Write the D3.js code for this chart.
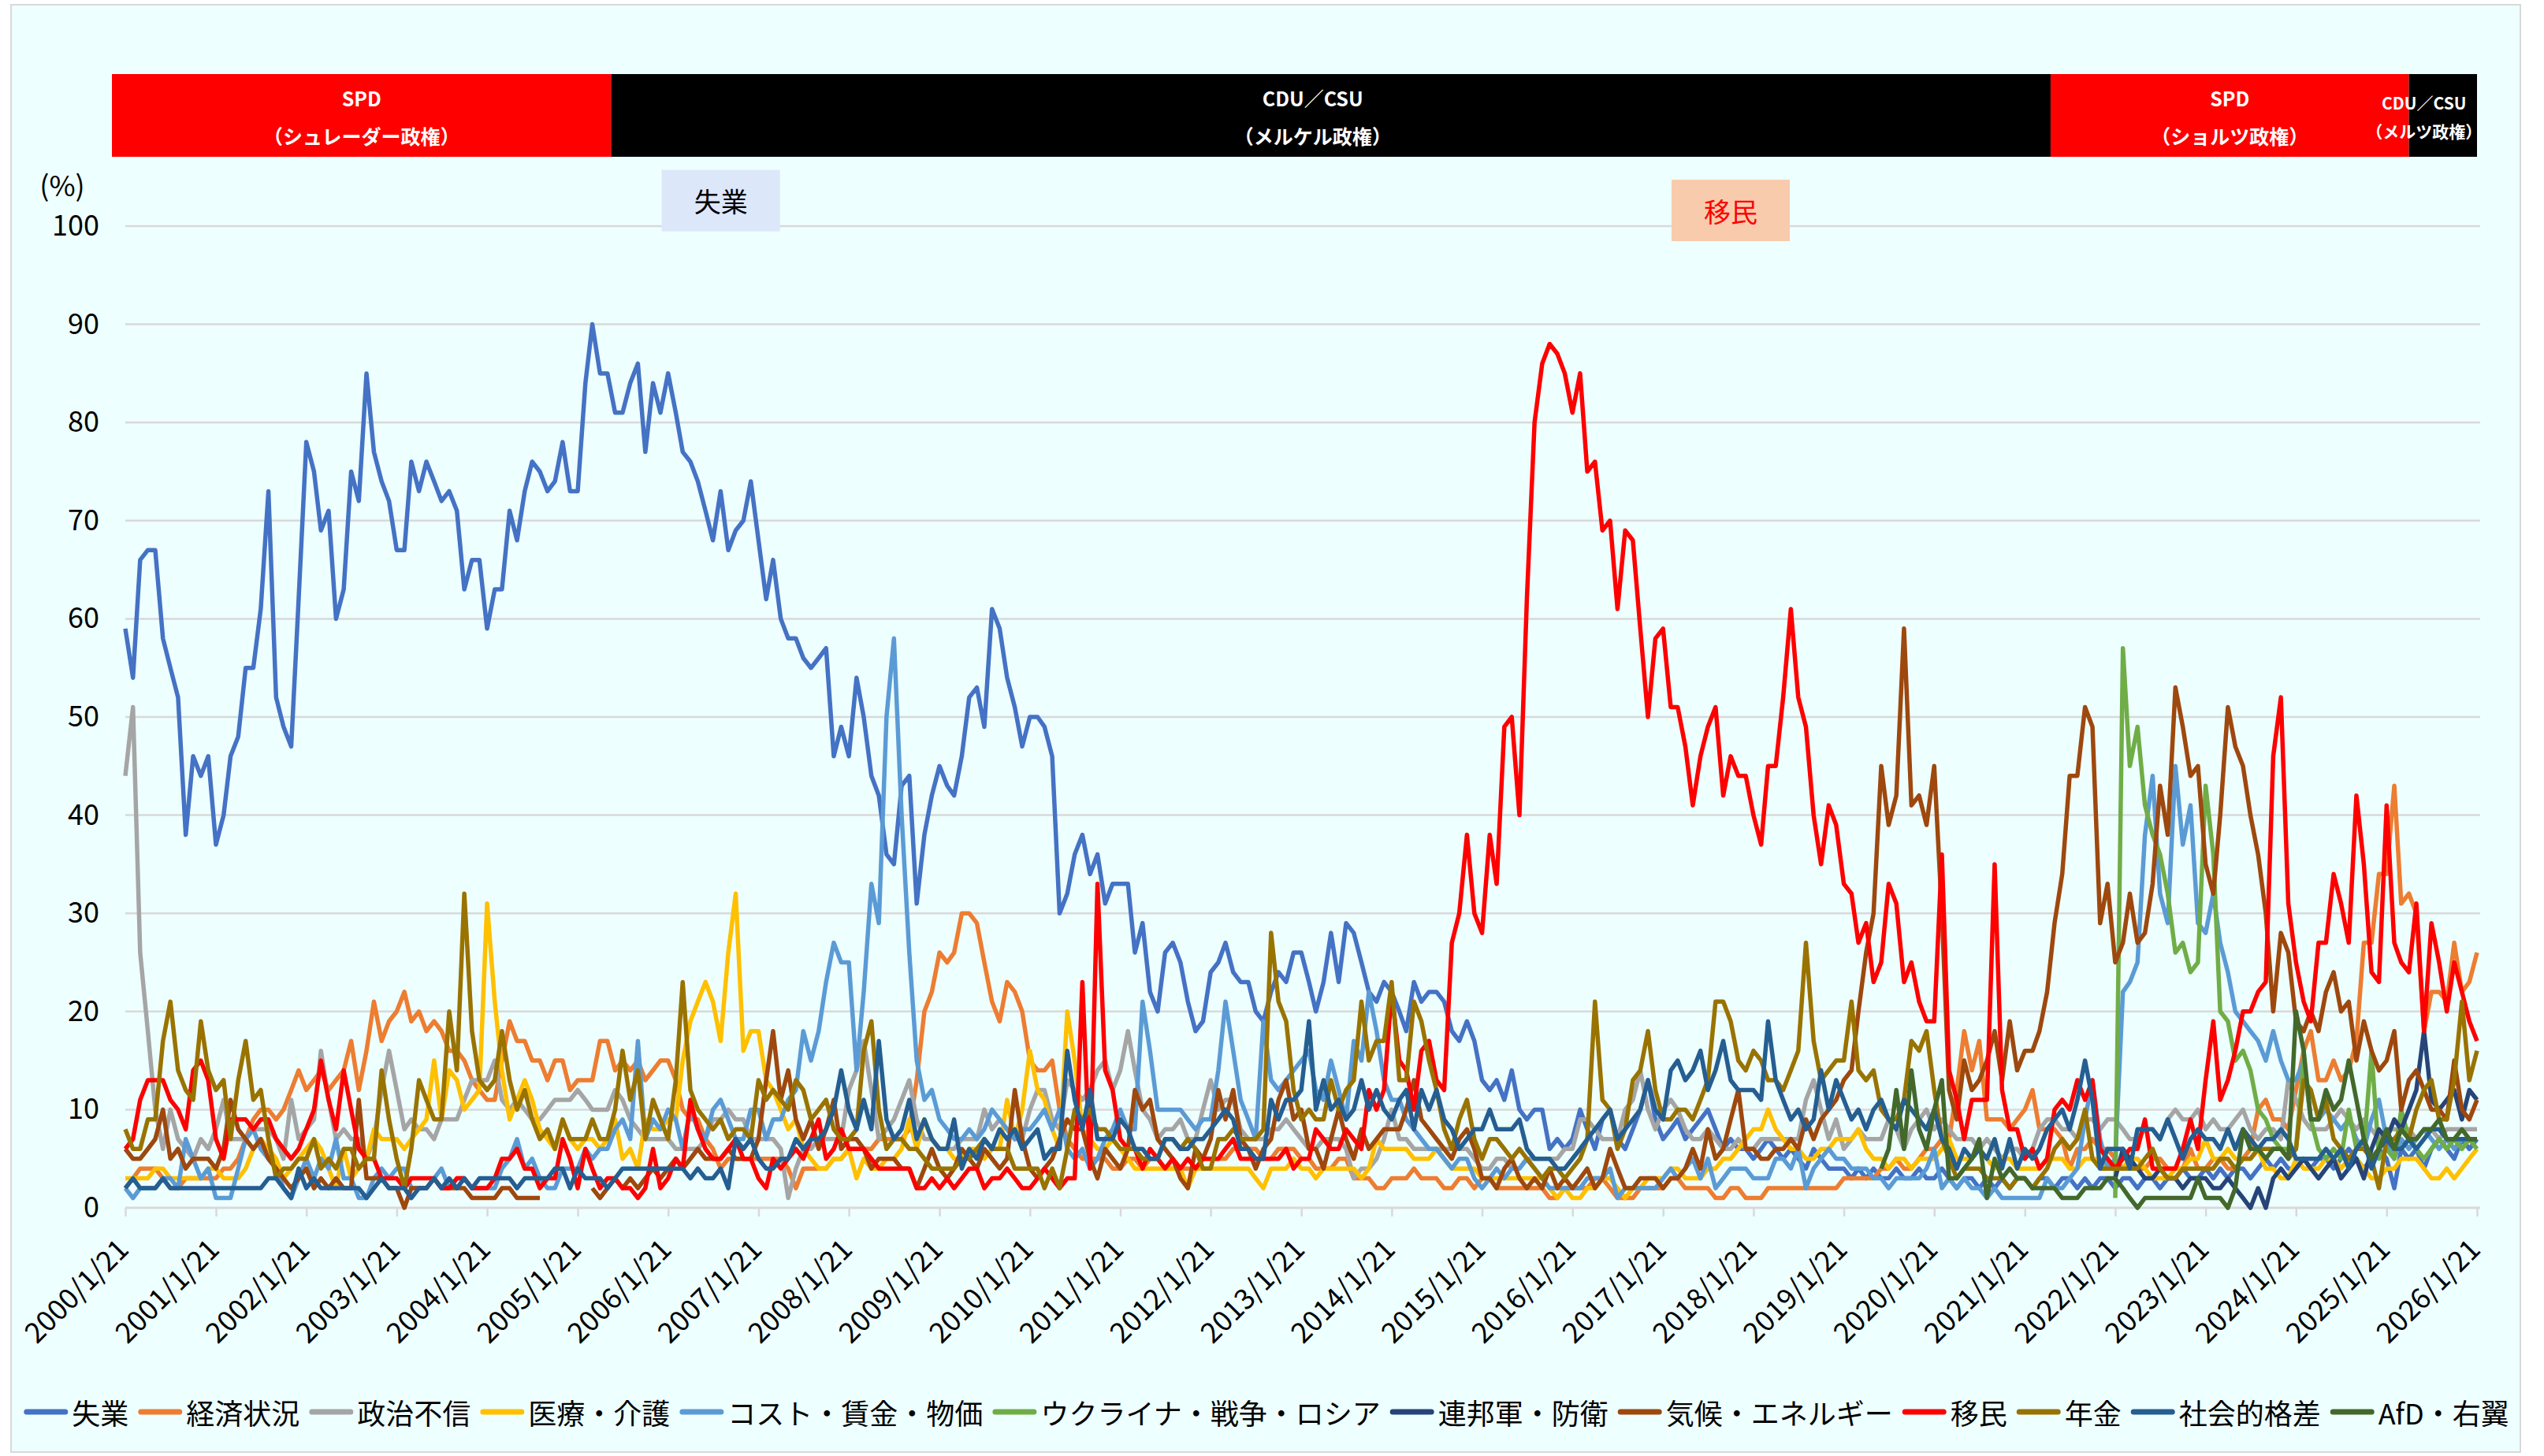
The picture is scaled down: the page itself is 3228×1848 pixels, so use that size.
<!DOCTYPE html>
<html>
<head>
<meta charset="utf-8">
<script src="https://cdn.jsdelivr.net/npm/d3@7"></script>
<style>
  body { margin: 0; background: #ffffff; }
  text { font-family: "Noto Sans CJK JP", "Noto Sans", sans-serif; }
</style>
</head>
<body>
<script>
// ---- data (monthly, first point = 2000/1/21) ----
var seriesNames = ["失業", "経済状況", "政治不信", "医療・介護", "コスト・賃金・物価",
  "ウクライナ・戦争・ロシア", "連邦軍・防衛", "気候・エネルギー", "移民", "年金", "社会的格差", "AfD・右翼"];
var seriesColors = ["#4472C4", "#ED7D31", "#A5A5A5", "#FFC000", "#5B9BD5",
  "#70AD47", "#264478", "#9E480E", "#FF0000", "#997300", "#255E91", "#43682B"];
// month index at which each series begins
var seriesStart = [0, 0, 0, 0, 0, 264, 264, 0, 0, 0, 0, 233];

var unemployment = [
  59,54,66,67,67,58,55,52,38,46,44,46,
  37,40,46,48,55,55,61,73,52,49,47,62,
  78,75,69,71,60,63,75,72,85,77,74,72,
  67,67,76,73,76,74,72,73,71,63,66,66,
  59,63,63,71,68,73,76,75,73,74,78,73,
  73,84,90,85,85,81,81,84,86,77,84,81,
  85,81,77,76,74,71,68,73,67,69,70,74,
  68,62,66,60,58,58,56,55,56,57,46,49,
  46,54,50,44,42,36,35,43,44,31,38,42,
  45,43,42,46,52,53,49,61,59,54,51,47,
  50,50,49,46,30,32,36,38,34,36,31,33,
  33,33,26,29,22,20,26,27,25,21,18,19,
  24,25,27,24,23,23,20,19,22,24,23,26,
  26,23,20,23,28,23,29,28,25,22,21,23,
  22,20,18,23,21,22,22,21,18,17,19,17,
  13,12,13,11,14,10,9,10,10,6,7,6,
  7,10,8,6,9,10,7,6,8,10,13,9,
  7,8,9,7,8,9,10,8,6,7,6,6,
  5,6,7,6,5,6,5,4,6,5,4,4,
  4,3,4,3,4,3,3,4,3,3,4,3,
  3,4,3,2,3,3,2,3,2,3,2,3,
  3,2,3,3,2,3,3,2,3,2,3,3,
  2,3,3,2,3,3,2,3,3,4,3,3,
  4,3,4,3,4,4,3,4,5,4,5,4,
  4,5,4,5,5,4,5,6,5,4,5,6,
  5,2,6,5,6,4,6,7,6,5,7,6,
  7
];
var economy = [
  2,3,4,4,4,3,2,2,3,3,3,3,
  3,4,4,5,7,9,10,10,9,10,12,14,
  12,13,14,12,13,14,17,12,16,21,17,19,
  20,22,19,20,18,19,18,16,16,15,13,12,
  11,11,15,19,17,17,15,15,13,15,15,12,
  13,13,13,17,17,14,15,14,15,13,14,15,
  15,13,10,9,9,7,6,4,5,5,5,5,
  5,5,5,5,4,2,4,4,4,4,5,5,
  6,6,6,6,7,7,7,7,8,13,20,22,
  26,25,26,30,30,29,25,21,19,23,22,20,
  15,14,14,15,10,7,6,5,5,5,5,4,
  4,5,5,4,5,5,4,4,4,4,4,5,
  5,5,5,6,6,6,6,5,5,6,6,6,
  5,5,4,4,4,5,5,3,3,3,2,2,
  3,3,3,4,3,3,3,2,2,3,3,2,
  3,3,2,2,2,2,2,2,2,1,1,2,
  2,2,2,3,3,2,1,1,1,2,2,2,
  2,3,3,2,2,2,2,1,1,2,2,1,
  1,1,2,2,2,2,2,2,2,2,2,2,
  3,3,3,3,3,4,4,5,4,4,5,6,
  6,7,7,12,18,14,17,9,9,9,8,9,
  10,12,8,8,8,7,4,6,6,7,6,6,
  5,4,4,4,4,5,5,4,4,4,6,4,
  4,5,5,4,4,5,6,10,11,9,9,8,
  12,16,18,13,13,15,13,14,17,27,27,34,
  34,43,31,32,30,18,22,22,21,27,22,23,
  26
];
var distrust = [
  44,51,26,18,10,6,10,7,6,5,7,6,
  8,11,7,7,7,8,8,8,7,5,11,7,
  8,9,16,11,7,8,7,7,5,7,12,16,
  12,8,9,8,8,7,9,9,9,11,13,13,
  13,15,11,10,11,10,9,9,10,11,11,11,
  12,11,10,10,10,12,11,9,8,7,7,7,
  7,6,6,6,6,7,9,9,10,9,9,7,
  7,7,7,6,1,4,6,6,7,7,7,7,
  12,14,17,12,7,8,9,11,13,9,7,7,
  6,6,6,7,7,7,10,8,9,8,7,7,
  10,12,12,9,8,13,12,11,12,14,15,12,
  14,18,14,10,9,7,8,8,9,7,7,10,
  13,10,11,11,8,7,7,7,8,8,9,8,
  7,6,6,7,7,7,6,3,4,4,5,7,
  10,7,7,6,6,6,6,6,6,6,6,5,
  4,4,5,5,4,4,5,5,5,5,5,6,
  6,9,9,8,7,7,7,10,11,14,10,8,
  10,11,10,8,7,7,8,7,6,6,7,6,
  6,7,7,7,7,7,7,11,13,10,7,9,
  6,7,8,7,7,7,9,8,6,8,9,10,
  8,9,8,7,7,7,6,7,6,5,6,6,
  5,6,8,9,9,8,8,7,9,9,8,9,
  9,8,7,7,8,8,7,9,10,9,9,10,
  8,9,8,8,9,10,8,7,8,8,7,13,
  11,9,8,8,8,9,10,9,8,9,8,7,
  8,8,8,8,7,8,8,7,8,8,8,8,
  8
];
var health = [
  3,3,3,3,4,4,3,3,3,3,3,4,
  4,3,3,3,4,6,7,6,5,3,4,5,
  6,7,6,4,2,6,3,4,5,8,7,7,
  7,6,7,8,9,15,9,14,13,10,11,12,
  31,21,14,9,11,13,11,8,7,6,9,7,
  6,7,7,6,7,9,5,6,4,9,8,8,
  9,9,15,19,21,23,21,17,26,32,16,18,
  18,13,12,10,8,9,6,5,4,4,5,5,
  6,3,5,4,4,5,5,6,9,6,9,7,
  6,6,5,5,6,6,5,6,6,11,7,10,
  16,12,11,8,6,20,15,8,7,6,6,7,
  6,5,4,4,4,4,4,4,4,2,4,4,
  4,4,4,4,4,4,3,2,4,4,4,5,
  4,4,3,4,4,4,4,4,3,4,7,6,
  6,6,6,5,5,5,6,5,4,4,4,4,
  3,3,3,3,3,3,3,3,3,2,1,2,
  1,1,2,2,3,3,2,1,2,2,3,3,
  3,4,4,3,3,3,4,4,5,5,6,7,
  8,8,10,8,7,6,6,5,5,6,6,7,
  7,7,8,6,5,5,4,5,5,4,5,5,
  5,6,7,5,5,5,6,5,4,5,5,4,
  4,4,4,5,5,5,4,4,5,5,5,4,
  4,4,5,5,4,3,3,3,4,4,5,5,
  7,5,5,6,5,5,5,6,4,4,3,3,
  5,4,4,4,5,5,4,5,5,4,3,3,
  4,4,5,5,5,4,3,3,4,3,4,5,
  6
];
var cost = [
  2,1,2,2,2,3,3,2,7,5,3,4,
  1,1,1,4,7,8,6,5,4,2,1,3,
  5,3,5,4,7,3,3,1,1,3,4,3,
  4,4,2,2,2,3,4,2,3,3,2,2,
  2,2,4,5,7,4,5,3,2,2,4,4,
  4,6,5,6,6,8,9,7,17,7,9,8,
  10,9,6,10,8,7,10,11,9,7,7,10,
  10,7,9,9,11,12,18,15,18,23,27,25,
  25,14,22,33,29,50,58,40,26,15,11,12,
  9,8,7,7,8,7,8,10,9,8,7,8,
  8,9,10,8,10,6,5,6,4,5,7,8,
  10,8,8,21,16,10,10,10,10,9,8,9,
  9,14,21,16,11,9,7,19,13,12,13,14,
  15,16,12,11,15,12,9,17,15,22,18,13,
  11,11,9,8,7,6,6,5,4,5,5,3,
  2,3,4,3,4,4,5,4,3,2,2,2,
  2,2,3,3,3,4,1,2,2,2,2,2,
  3,4,3,4,5,3,5,2,3,4,4,4,
  3,3,3,5,5,4,6,2,4,5,6,5,
  5,4,4,4,3,3,2,3,3,3,3,4,
  6,2,3,2,3,2,2,1,2,1,1,1,
  1,1,1,3,2,2,3,4,9,13,7,4,
  5,22,23,25,38,44,32,29,45,37,41,29,
  28,32,27,24,20,19,18,17,15,18,15,13,
  13,15,9,9,10,9,8,9,7,6,9,11,
  7,5,7,6,7,8,7,6,7,6,7,7,
  7
];
var ukraine = [
  1,57,45,49,41,38,36,32,26,27,24,25,
  43,36,20,19,15,16,14,10,9,7,6,6,
  6,15,9,6,5,6,5,10,6,6,16,5,
  6,5,10,7,6,5,6,7,6,7,6,7,
  6
];
var defense = [
  3,6,5,4,3,3,4,3,3,2,3,3,
  3,2,2,3,2,1,0,2,0,3,4,3,
  4,5,4,3,4,5,3,4,5,3,6,8,
  7,9,8,10,12,18,11,10,11,12,9,12,
  11
];
var climate = [
  6,5,5,6,7,10,5,6,4,5,5,5,
  4,6,11,8,7,6,7,5,4,3,2,3,
  4,2,3,2,3,2,2,11,3,3,3,2,
  2,0,2,2,2,3,2,2,2,2,1,1,
  1,1,2,2,1,1,1,1,null,null,null,null,
  null,null,2,1,2,3,2,3,2,3,4,3,
  4,5,4,5,6,5,5,5,6,5,5,5,
  7,13,18,11,14,9,7,9,6,8,11,6,
  7,7,6,4,5,5,5,4,4,2,4,6,
  4,3,4,6,5,4,6,5,4,5,12,7,
  4,3,4,5,7,9,8,8,5,3,6,5,
  4,6,12,10,11,7,6,5,3,2,6,5,
  7,12,9,12,7,6,4,6,7,11,13,9,
  10,6,6,4,7,10,7,5,8,6,7,8,
  8,8,10,13,9,8,7,6,5,7,8,6,
  3,3,2,4,5,3,2,3,2,4,2,3,
  2,3,4,2,3,6,4,2,2,3,3,3,
  2,3,3,4,6,4,8,5,6,9,12,6,
  6,5,5,6,6,7,6,9,7,9,10,11,
  13,14,20,26,30,45,39,42,59,41,42,39,
  45,30,12,9,15,12,13,15,18,13,19,14,
  16,16,18,22,29,34,44,44,51,49,29,33,
  25,27,32,27,28,33,43,38,53,49,44,45,
  35,32,40,51,47,45,40,36,30,20,28,26,
  19,18,20,18,22,24,20,21,15,19,16,14,
  15,18,10,13,14,12,10,10,9,15,10,9,
  11
];
var immigration = [
  6,7,11,13,13,13,11,10,8,14,15,13,
  7,5,9,9,9,8,9,9,7,6,5,6,
  8,10,15,11,8,14,10,6,5,5,3,3,
  3,2,3,3,3,3,2,2,3,3,2,2,
  2,3,5,5,6,4,4,2,3,3,7,5,
  2,6,4,2,3,3,2,2,1,2,6,2,
  3,5,4,11,8,6,5,5,6,7,5,5,
  3,2,5,4,5,6,5,7,9,5,6,8,
  6,6,6,5,4,4,4,4,4,2,2,3,
  2,3,2,3,4,4,2,3,3,4,3,2,
  2,3,4,3,2,3,3,23,4,33,14,12,
  7,6,6,4,6,5,4,5,4,5,4,5,
  5,5,6,7,5,5,5,5,5,5,6,4,
  5,5,8,7,6,6,8,7,6,12,10,12,
  22,15,14,10,16,17,13,12,27,30,38,30,
  28,38,33,49,50,40,62,80,86,88,87,85,
  81,85,75,76,69,70,61,69,68,59,50,58,
  59,51,51,47,41,46,49,51,42,46,44,44,
  40,37,45,45,52,61,52,49,40,35,41,39,
  33,32,27,29,23,25,33,31,23,25,21,19,
  19,36,14,11,7,11,11,11,35,12,8,8,
  5,6,4,5,10,11,10,13,11,13,6,5,
  4,5,6,6,9,4,4,4,4,6,9,6,
  13,19,11,13,16,20,20,22,23,46,52,31,
  25,21,19,27,27,34,31,27,42,35,24,23,
  41,27,25,24,31,18,29,25,20,25,22,19,
  17
];
var pension = [
  8,6,6,9,9,17,21,14,12,11,19,14,
  12,13,7,13,17,11,12,7,3,4,4,5,
  5,7,4,5,4,6,6,4,5,5,14,9,
  5,2,6,13,11,9,9,20,14,32,18,13,
  12,13,18,13,10,12,9,7,8,6,9,7,
  7,7,9,7,7,10,16,11,14,7,11,9,
  7,13,23,12,10,9,8,9,7,8,8,7,
  13,11,12,11,10,13,12,9,10,11,8,7,
  7,8,16,19,10,6,7,7,6,6,5,4,
  4,4,4,5,5,6,7,6,6,6,4,4,
  4,4,2,4,2,6,10,9,10,8,8,7,
  6,6,6,5,5,5,7,7,6,7,6,4,
  4,7,7,8,7,7,7,8,28,21,19,12,
  9,10,9,9,13,10,12,13,21,15,17,17,
  23,13,13,21,19,15,12,8,6,9,11,7,
  5,7,7,6,5,6,5,4,3,4,4,3,
  4,5,7,21,11,10,6,8,13,14,18,12,
  9,9,10,10,9,11,13,21,21,19,15,14,
  16,15,13,13,12,14,16,27,17,13,14,15,
  15,21,14,13,14,10,9,9,11,17,16,18,
  12,7,5,3,4,4,4,3,3,3,2,3,
  3,2,3,4,6,7,6,7,10,5,4,4,
  4,4,4,4,5,6,4,3,3,4,4,4,
  4,4,5,5,4,5,5,6,6,6,6,5,
  6,13,12,9,11,7,6,5,6,6,5,2,
  7,7,8,7,10,12,13,9,9,13,21,13,
  16
];
var inequality = [
  2,3,2,2,2,3,2,2,2,2,2,2,
  2,2,2,2,2,2,2,3,3,2,1,4,
  2,3,2,2,2,2,2,2,1,2,3,2,
  2,2,1,2,2,3,2,3,2,3,2,3,
  3,3,3,3,2,3,3,3,3,4,4,2,
  4,3,3,3,2,3,4,4,4,4,4,4,
  4,4,4,3,4,3,3,4,2,7,6,7,
  5,4,4,5,5,7,6,7,7,8,10,14,
  10,8,11,8,17,9,7,8,11,7,9,7,
  6,6,9,4,6,5,7,6,8,7,8,6,
  7,8,5,6,6,16,11,8,12,7,7,7,
  9,8,6,6,5,5,7,7,6,6,7,7,
  8,9,10,9,6,6,5,5,11,9,11,11,
  12,19,10,13,10,11,9,10,13,10,12,10,
  9,11,12,8,12,10,12,9,8,6,7,8,
  8,10,8,8,8,9,6,5,5,5,4,4,
  5,6,7,8,9,10,7,8,9,10,13,10,
  9,14,15,13,14,16,12,14,17,13,12,12,
  12,11,19,13,11,9,10,8,9,14,10,13,
  11,9,10,8,10,11,9,8,11,10,9,8,
  10,7,6,4,6,5,6,5,7,4,7,4,
  6,5,6,8,9,10,8,11,15,11,4,6,
  6,6,4,8,8,8,7,9,7,5,7,8,
  7,7,6,8,6,8,7,6,7,7,8,7,
  5,5,5,5,6,5,6,4,6,7,4,6,
  7,6,6,7,6,7,8,8,7,7,7,7,
  7
];
var afd = [
  4,6,12,6,14,8,6,
  10,13,3,3,4,5,7,1,5,3,4,3,
  3,2,2,2,2,1,1,1,2,2,2,3,
  3,2,1,0,1,1,1,1,1,1,1,3,
  1,1,1,0,2,8,6,6,5,6,6,5,
  20,16,9,9,12,10,11,15,11,7,5,6,
  8,6,8,7,7,8,8,9,7,7,8,7,
  7
];
var seriesValues = [unemployment, economy, distrust, health, cost,
  ukraine, defense, climate, immigration, pension, inequality, afd];

// governments shown in the band above the chart
var govNames = ["SPD", "CDU／CSU", "SPD", "CDU／CSU"];
var govSubs = ["（シュレーダー政権）", "（メルケル政権）", "（ショルツ政権）", "（メルツ政権）"];
var govFrom = ["1999-11-28", "2005-06-05", "2021-05-05", "2025-04-21"];
var govTo = ["2005-06-05", "2021-05-05", "2025-04-21", "2026-01-21"];
var govColors = ["#FF0000", "#000000", "#FF0000", "#000000"];

// highlighted topics
var noteText = ["失業", "移民"];
var noteDate = ["2006-08-22", "2017-10-21"];
var noteValue = [102.6, 101.6];
var noteFill = ["#DDE7FA", "#F8CBAD"];
var noteColor = ["#000000", "#FF0000"];

var yTicks = [0, 10, 20, 30, 40, 50, 60, 70, 80, 90, 100];

// ---- layout ----
var svgWidth = 3228;
var svgHeight = 1848;
var margin = { top: 287, right: 85, bottom: 315, left: 159 };
var chartWidth = svgWidth - margin.left - margin.right;
var chartHeight = svgHeight - margin.top - margin.bottom;

var svg = d3.select("body")
  .append("svg")
  .attr("width", svgWidth)
  .attr("height", svgHeight);

// chart area background and frame
svg.append("rect")
  .attr("x", 14).attr("y", 6)
  .attr("width", 3184).attr("height", 1837)
  .attr("fill", "#EEFFFF")
  .attr("stroke", "#D9D9D9")
  .attr("stroke-width", 2);

var chartGroup = svg.append("g")
  .attr("transform", `translate(${margin.left}, ${margin.top})`);

var parseDate = d3.timeParse("%Y-%m-%d");
var startDate = new Date(2000, 0, 21);
var endDate = new Date(2026, 0, 21);

var xTimeScale = d3.scaleTime()
  .domain([startDate, endDate])
  .range([0, chartWidth]);

var yLinearScale = d3.scaleLinear()
  .domain([0, 100])
  .range([chartHeight, 0]);

// horizontal gridlines
chartGroup.append("g")
  .selectAll("line")
  .data(yTicks.filter(d => d > 0))
  .enter()
  .append("line")
  .attr("x1", 0)
  .attr("x2", chartWidth + 4)
  .attr("y1", d => yLinearScale(d))
  .attr("y2", d => yLinearScale(d))
  .attr("stroke", "#D9D9D9")
  .attr("stroke-width", 2.5);

// left axis: labels only
var leftAxis = d3.axisLeft(yLinearScale).tickValues(yTicks).tickSize(0).tickPadding(33);
chartGroup.append("g")
  .call(leftAxis)
  .call(g => g.select(".domain").remove())
  .selectAll("text")
  .attr("font-size", "36px")
  .attr("font-family", "Noto Sans CJK JP")
  .attr("fill", "#000");

chartGroup.append("text")
  .attr("x", -80)
  .attr("y", -54)
  .attr("text-anchor", "middle")
  .attr("dominant-baseline", "central")
  .attr("font-size", "36px")
  .attr("fill", "#000")
  .text("(%)");

// bottom axis with yearly ticks
var yearTicks = d3.timeYear.range(new Date(2000, 0, 1), new Date(2027, 0, 1))
  .map(d => new Date(d.getFullYear(), 0, 21));
var bottomAxis = d3.axisBottom(xTimeScale)
  .tickValues(yearTicks)
  .tickFormat(d3.timeFormat("%Y/%-m/%-d"))
  .tickSize(11)
  .tickSizeOuter(0);

var xAxisGroup = chartGroup.append("g")
  .attr("transform", `translate(0, ${chartHeight})`)
  .call(bottomAxis);
xAxisGroup.select(".domain")
  .attr("d", `M0,0H${chartWidth + 4}`)
  .attr("stroke", "#D9D9D9")
  .attr("stroke-width", 3);
xAxisGroup.selectAll(".tick line")
  .attr("stroke", "#D9D9D9")
  .attr("stroke-width", 2.5);
xAxisGroup.selectAll("text")
  .attr("x", 0).attr("y", 0).attr("dy", 0)
  .attr("transform", "translate(6, 55) rotate(-45)")
  .attr("text-anchor", "end")
  .attr("font-size", "36px")
  .attr("font-family", "Noto Sans CJK JP")
  .attr("fill", "#000");

// government band
var govData = govNames.map((n, i) => ({
  name: n, sub: govSubs[i], from: parseDate(govFrom[i]), to: parseDate(govTo[i]), color: govColors[i]
}));
var bandTop = 94 - margin.top;
var bandHeight = 105;
chartGroup.append("g")
  .selectAll("rect")
  .data(govData)
  .enter()
  .append("rect")
  .attr("x", d => xTimeScale(d.from))
  .attr("y", bandTop)
  .attr("width", d => xTimeScale(d.to) - xTimeScale(d.from))
  .attr("height", bandHeight)
  .attr("fill", d => d.color);

// label offsets, small font for the short last band
var govLabelShift = [0, -23, 0, -24];
var govLabelSize = [25, 25, 25, 21];
var govLabels = chartGroup.append("g")
  .selectAll("g")
  .data(govData)
  .enter()
  .append("g")
  .attr("transform", (d, i) => `translate(${(xTimeScale(d.from) + xTimeScale(d.to)) / 2 + govLabelShift[i]}, 0)`);
govLabels.append("text")
  .attr("y", (d, i) => bandTop + (i === 3 ? 36 : 30))
  .attr("text-anchor", "middle")
  .attr("dominant-baseline", "central")
  .attr("font-weight", "bold")
  .attr("font-size", (d, i) => govLabelSize[i] + "px")
  .attr("fill", "#fff")
  .text(d => d.name);
govLabels.append("text")
  .attr("y", (d, i) => bandTop + (i === 3 ? 72 : 78))
  .attr("text-anchor", "middle")
  .attr("dominant-baseline", "central")
  .attr("font-weight", "bold")
  .attr("font-size", (d, i) => govLabelSize[i] + "px")
  .attr("fill", "#fff")
  .text(d => d.sub);

// topic notes
var noteW = 150, noteH = 78;
noteText.forEach(function (t, i) {
  var cx = xTimeScale(parseDate(noteDate[i]));
  var cy = yLinearScale(noteValue[i]);
  chartGroup.append("rect")
    .attr("x", cx - noteW / 2).attr("y", cy - noteH / 2)
    .attr("width", noteW).attr("height", noteH)
    .attr("fill", noteFill[i]);
  chartGroup.append("text")
    .attr("x", cx).attr("y", cy)
    .attr("text-anchor", "middle")
    .attr("dominant-baseline", "central")
    .attr("font-size", "34px")
    .attr("fill", noteColor[i])
    .text(t);
});

// lines
var series = seriesNames.map((name, i) => ({
  name: name,
  color: seriesColors[i],
  values: seriesValues[i].map((v, k) => ({
    date: d3.timeMonth.offset(startDate, seriesStart[i] + k),
    value: v
  }))
}));

var drawLine = d3.line()
  .defined(d => d.value != null)
  .x(d => xTimeScale(d.date))
  .y(d => yLinearScale(d.value));

chartGroup.append("g")
  .selectAll("path")
  .data(series)
  .enter()
  .append("path")
  .attr("d", d => drawLine(d.values))
  .attr("fill", "none")
  .attr("stroke", d => d.color)
  .attr("stroke-width", 5.5)
  .attr("stroke-linejoin", "round");

// legend
var legendY = 1792;
var legend = svg.append("g");
var items = legend.selectAll("g")
  .data(series)
  .enter()
  .append("g");
items.append("line")
  .attr("x1", 3.5).attr("x2", 52.5)
  .attr("y1", 0).attr("y2", 0)
  .attr("stroke", d => d.color)
  .attr("stroke-width", 7)
  .attr("stroke-linecap", "round");
items.append("text")
  .attr("x", 61)
  .attr("y", 0)
  .attr("dominant-baseline", "central")
  .attr("font-size", "36px")
  .attr("fill", "#000")
  .text(d => d.name);

var offset = 0;
var widths = [];
items.each(function () {
  var w = 61 + d3.select(this).select("text").node().getComputedTextLength();
  widths.push(w);
});
var totalWidth = d3.sum(widths) + 12 * (widths.length - 1);
var legendX = 1607 - totalWidth / 2;
items.attr("transform", function (d, i) {
  var tx = legendX + offset;
  offset += widths[i] + 12;
  return `translate(${tx}, ${legendY})`;
});
</script>
</body>
</html>
